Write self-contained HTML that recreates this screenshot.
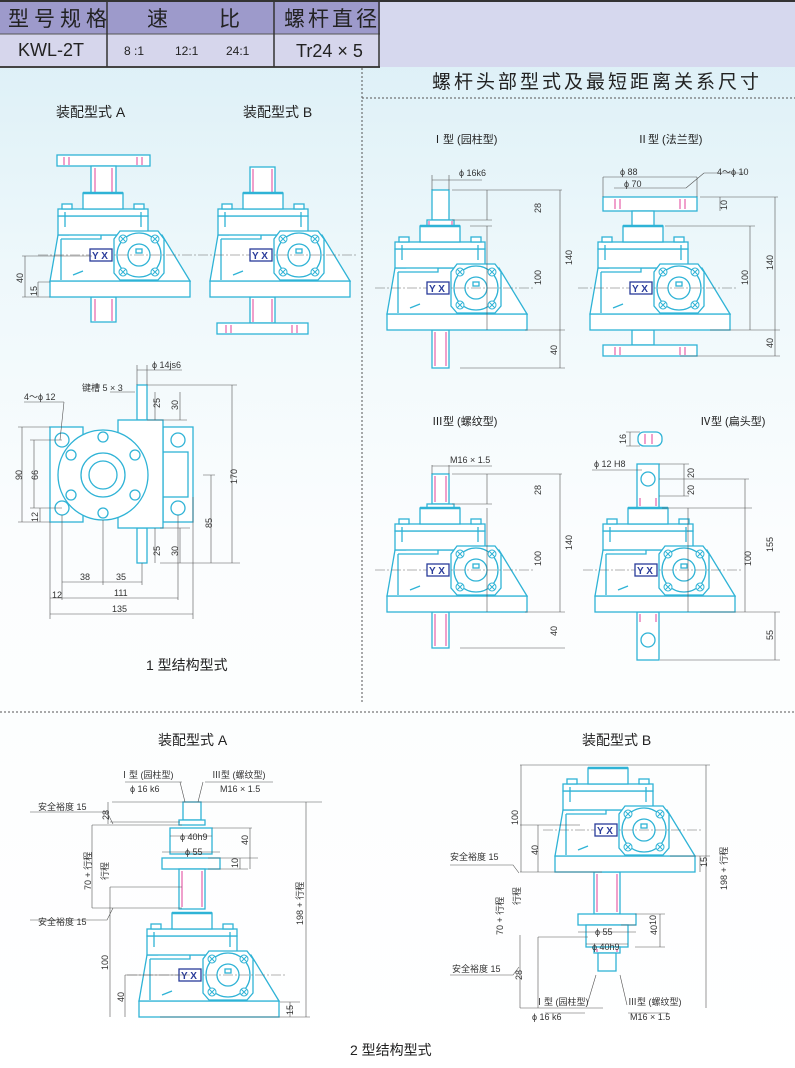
<!DOCTYPE html>
<html><head><meta charset="utf-8"><style>
html,body{margin:0;padding:0;width:795px;height:1068px;overflow:hidden;background:#fff}
svg{display:block}
text{font-family:"Liberation Sans","Noto Sans CJK SC",sans-serif}
</style></head><body>
<svg width="795" height="1068" viewBox="0 0 795 1068" xmlns="http://www.w3.org/2000/svg">
<defs>
<linearGradient id="bg" x1="0" y1="0" x2="0" y2="1">
<stop offset="0" stop-color="#d9eef6"/><stop offset="0.25" stop-color="#eef8fb"/><stop offset="0.5" stop-color="#fbfdfe"/><stop offset="1" stop-color="#ffffff"/>
</linearGradient>
<g id="gb" stroke="#2fb3d6" stroke-width="1.3" fill="#ffffff">
<rect x="-53" y="-16" width="140" height="16"/>
<line x1="-22" y1="-16" x2="-22" y2="0" stroke-width="0"/>
<path d="M-45,-62 L-53,-16 L87,-16 L59,-62 Z"/>
<line x1="-42" y1="-58" x2="-42" y2="-17"/>
<path d="M-42,-58 L-2,-58 L-2,-74"/>
<path d="M-30,-22 L-20,-26"/>
<rect x="-45" y="-81" width="90" height="19"/>
<rect x="-45" y="-88" width="90" height="7"/>
<rect x="-41" y="-93" width="10" height="5"/>
<rect x="31" y="-93" width="10" height="5"/>
<line x1="-38" y1="-85" x2="-38" y2="-70"/><line x1="38" y1="-85" x2="38" y2="-70"/>
<rect x="-20" y="-104" width="40" height="16"/>
<line x1="-20" y1="-104" x2="20" y2="-104" stroke-width="2.5"/>
<path d="M17,-66 L55,-66 L61,-58 L61,-24 L55,-17 L17,-17 L11,-24 L11,-58 Z"/>
<circle cx="36" cy="-42" r="22"/>
<circle cx="36" cy="-42" r="11"/>
<rect x="33" y="-48" width="6" height="4"/>
<g stroke-width="1"><circle cx="20" cy="-58" r="4"/><circle cx="52" cy="-58" r="4"/><circle cx="20" cy="-25" r="4"/><circle cx="52" cy="-25" r="4"/>
<path d="M17,-61l6,6M23,-61l-6,6M49,-61l6,6M55,-61l-6,6M17,-28l6,6M23,-28l-6,6M49,-28l6,6M55,-28l-6,6"/></g>
<line x1="-65" y1="-42" x2="95" y2="-42" stroke="#666" stroke-width="0.6" stroke-dasharray="10,2,2,2"/>
<rect x="-13" y="-48" width="22" height="12" fill="#fff" stroke="#2a3c9a" stroke-width="1.3"/>
</g>
</defs>
<rect width="795" height="1068" fill="url(#bg)"/>

<!-- header table -->
<rect x="0" y="0" width="795" height="2" fill="#333"/>
<rect x="0" y="2" width="380" height="32" fill="#9d9acb"/>
<rect x="0" y="34" width="380" height="33" fill="#d6d6ec"/>
<rect x="380" y="2" width="415" height="65" fill="#d6d8ee"/>
<rect x="0" y="66" width="380" height="2" fill="#444"/>
<line x1="0" y1="34" x2="380" y2="34" stroke="#555" stroke-width="1"/>
<g stroke="#333" stroke-width="1.5"><line x1="107" y1="2" x2="107" y2="67"/><line x1="274" y1="2" x2="274" y2="67"/><line x1="379" y1="2" x2="379" y2="67"/></g>
<g fill="#222" font-size="21" font-family="'Noto Sans CJK SC',sans-serif">
<text x="8" y="26" letter-spacing="5">型号规格</text>
<text x="147" y="26">速</text><text x="219" y="26">比</text>
<text x="284" y="26" letter-spacing="3">螺杆直径</text>
</g>
<text x="18" y="56" font-size="18" fill="#222">KWL-2T</text>
<text x="124" y="55" font-size="12" fill="#222">8 :1</text>
<text x="175" y="55" font-size="12" fill="#222">12:1</text>
<text x="226" y="55" font-size="12" fill="#222">24:1</text>
<text x="296" y="57" font-size="18" fill="#222">Tr24 × 5</text>

<!-- dashed separators -->
<g stroke="#555" stroke-width="1" stroke-dasharray="2,2" fill="none">
<line x1="362" y1="68" x2="362" y2="704"/>
<line x1="362" y1="98" x2="795" y2="98"/>
<line x1="0" y1="712" x2="795" y2="712"/>
</g>
<text x="432" y="88" font-size="19" fill="#222" letter-spacing="3" font-family="'Noto Sans CJK SC',sans-serif">螺杆头部型式及最短距离关系尺寸</text>

<g font-size="14" fill="#222">
<text x="56" y="117">装配型式 A</text>
<text x="243" y="117">装配型式 B</text>
<text x="146" y="670">1 型结构型式</text>
<text x="158" y="745">装配型式 A</text>
<text x="582" y="745">装配型式 B</text>
<text x="350" y="1055">2 型结构型式</text>
</g>

<!-- rods/pieces (drawn before gearboxes) -->
<g stroke="#2fb3d6" stroke-width="1.3" fill="#fff">
<!-- top A -->
<rect x="57" y="155" width="93" height="11"/>
<rect x="91" y="166" width="25" height="27"/>
<rect x="91" y="297" width="25" height="25"/>
<!-- top B -->
<rect x="250" y="167" width="25" height="26"/>
<rect x="250" y="297" width="25" height="26"/>
<rect x="217" y="323" width="91" height="11"/>
<!-- I -->
<rect x="432" y="190" width="17" height="30"/><rect x="427" y="220" width="27" height="6"/>
<rect x="432" y="330" width="17" height="38"/>
<!-- II -->
<rect x="603" y="197" width="94" height="14"/><rect x="632" y="211" width="22" height="15"/>
<rect x="632" y="330" width="22" height="15"/><rect x="603" y="345" width="94" height="11"/>
<!-- III -->
<rect x="432" y="474" width="17" height="30"/><rect x="427" y="504" width="27" height="4"/>
<rect x="432" y="612" width="17" height="36"/>
<!-- IV -->
<rect x="637" y="464" width="22" height="44"/><circle cx="648" cy="479" r="7"/>
<rect x="638" y="432" width="24" height="14" rx="6"/>
<rect x="637" y="612" width="22" height="48"/><circle cx="648" cy="640" r="7"/>
<!-- bottom A -->
<rect x="183" y="802" width="18" height="18"/><rect x="179" y="820" width="26" height="5"/>
<rect x="170" y="828" width="42" height="26"/><rect x="162" y="858" width="58" height="11"/>
<rect x="179" y="869" width="26" height="40"/>
<!-- bottom B -->
<rect x="594" y="872" width="26" height="42"/>
<rect x="578" y="914" width="58" height="11"/><rect x="586" y="925" width="42" height="22"/>
<rect x="594" y="947" width="26" height="6"/><rect x="598" y="953" width="18" height="18"/>
</g>
<g stroke="#e0409a" stroke-width="1" fill="none">
<path d="M64,157v8M69,157v8M137,157v8M142,157v8M95,168v24M112,168v24M95,299v22M112,299v22"/>
<path d="M253,169v23M272,169v23M253,299v23M272,299v23M226,325v8M231,325v8M292,325v8M297,325v8"/>
<path d="M429,221v4M452,221v4M435,332v34M446,332v34M435,476v26M446,476v26M435,614v32M446,614v32"/>
<path d="M615,199v10M620,199v10M680,199v10M685,199v10M615,347v8M620,347v8M680,347v8M685,347v8"/>
<path d="M640,498v8M656,498v8M640,614v8M656,614v8M645,434v10M652,434v10"/>
<path d="M182,871v36M202,871v36M597,874v38M617,874v38M597,949v3M617,949v3"/>
</g>

<!-- gearboxes -->
<use href="#gb" transform="translate(103,297)"/>
<use href="#gb" transform="translate(263,297)"/>
<use href="#gb" transform="translate(440,330)"/>
<use href="#gb" transform="translate(643,330)"/>
<use href="#gb" transform="translate(440,612)"/>
<use href="#gb" transform="translate(648,612)"/>
<use href="#gb" transform="translate(192,1017)"/>
<use href="#gb" transform="translate(608,872)"/>
<g font-size="10" font-weight="bold" fill="#2a3c9a">
<text x="92" y="259">Y X</text><text x="252" y="259">Y X</text>
<text x="429" y="292">Y X</text><text x="632" y="292">Y X</text>
<text x="429" y="574">Y X</text><text x="637" y="574">Y X</text>
<text x="181" y="979">Y X</text><text x="597" y="834">Y X</text>
</g>

<!-- 1型 plan view -->
<g stroke="#2fb3d6" stroke-width="1.3" fill="#fff">
<rect x="137" y="385" width="10" height="35"/><rect x="137" y="528" width="10" height="35"/>
<rect x="50" y="427" width="33" height="95"/>
<rect x="163" y="427" width="30" height="95"/>
<rect x="163" y="452" width="25" height="45"/>
<rect x="118" y="420" width="45" height="108"/>
<circle cx="103" cy="475" r="45"/>
<circle cx="103" cy="475" r="22"/><circle cx="103" cy="475" r="14"/>
<circle cx="62" cy="440" r="7"/><circle cx="62" cy="508" r="7"/>
<circle cx="178" cy="440" r="7"/><circle cx="178" cy="508" r="7"/>
<circle cx="103" cy="437" r="5"/><circle cx="103" cy="513" r="5"/>
<circle cx="71" cy="455" r="5"/><circle cx="71" cy="495" r="5"/>
<circle cx="135" cy="455" r="5"/><circle cx="135" cy="495" r="5"/>
</g>

<!-- dimension lines -->
<g stroke="#555" stroke-width="0.6" fill="none">
<!-- top-left A -->
<path d="M22,256h70M22,297h28M25,256v41M38,282v15M38,282h12"/>
<!-- I -->
<path d="M432,175v15M449,175v15M432,180h50M452,190h110M452,220h40M470,226h22M525,330h40M460,368h105M487,190v30M487,226v104M560,190v178"/>
<!-- II -->
<path d="M603,177v20M697,177v20M603,177h94M614,188h72M686,188l18,-15M704,173h40M720,197v14M700,197h78M665,226h90M710,330h70M680,356h100M750,226v104M775,197v133M775,330v26"/>
<!-- III -->
<path d="M432,465v9M449,465v9M432,466h60M452,474h110M452,504h40M487,474v30M487,508v104M560,474v138M525,612h40M460,648h105"/>
<!-- IV -->
<path d="M626,432h14M626,446h14M630,432v14M592,470h50M659,464h30M659,479h90M659,496h30M684,464v32M662,508h90M745,479v133M688,508v104M700,612h80M660,660h120M775,612v48"/>
<!-- plan -->
<path d="M137,365v20M147,365v20M137,370h45M110,392h25M147,385h90M147,420h40M160,528h30M160,563h80M155,392v28M180,392v28M155,528v35M180,528v35M232,385v178M18,427h32M18,522h32M22,427v95M30,440h32M30,508h32M34,440v68M40,508v14M40,522h10M203,475h12M211,475v88M178,515v85M62,515v85M103,520v65M142,563v22M62,582h80M50,522v97M193,497v122M50,614h143M50,598h128M24,402h40M64,402l-4,38"/>
<!-- bottom A -->
<path d="M112,802h210M110,822h70M110,887h72M92,825h90M92,908h90M108,802v22M92,825v83M110,887v21M160,1017h150M125,975h65M208,858h50M208,869h40M212,828h40M240,858v11M250,828v41M110,908v109M125,975v42M280,1002h20M290,1002v15M306,802v215M170,836h42M162,852h58M30,812h77l6,12M30,920h77l6,-12M180,782l5,20M203,782l-5,20M125,782h57M205,782h68"/>
<!-- bottom B -->
<path d="M520,765h190M520,872h82M520,1008h82M538,937h50M521,765v107M538,937v71M520,935v73M580,825h-60M538,825v47M670,856h40M700,856v16M706,765v243M635,914h30M635,947h30M660,914v33M636,925h-15M578,932h58M586,944h42M450,865h63l6,8M450,975h63l6,-8M596,975l-9,30M620,975l7,30M525,1008h78M545,1013h40M628,1013h40"/>
</g>
<!-- arrows (small filled) -->
<g fill="#555" font-size="9">
</g>

<!-- dimension texts -->
<g font-size="9" fill="#333">
<text x="459" y="176">ϕ 16k6</text>
<text x="620" y="175">ϕ 88</text><text x="624" y="187">ϕ 70</text><text x="717" y="175">4～ϕ 10</text>
<text x="450" y="463">M16 × 1.5</text>
<text x="594" y="467">ϕ 12 H8</text>
<text x="152" y="368">ϕ 14js6</text>
<text x="82" y="391">键槽 5 × 3</text>
<text x="24" y="400">4～ϕ 12</text>
<text x="80" y="580">38</text><text x="116" y="580">35</text>
<text x="114" y="596">111</text><text x="52" y="598">12</text><text x="112" y="612">135</text>
<text x="120" y="778">Ⅰ型 (园柱型)</text><text x="212" y="778">Ⅲ型 (螺纹型)</text>
<text x="130" y="792">ϕ 16 k6</text><text x="220" y="792">M16 × 1.5</text>
<text x="38" y="810">安全裕度 15</text><text x="38" y="925">安全裕度 15</text>
<text x="180" y="840">ϕ 40h9</text><text x="185" y="855">ϕ 55</text>
<text x="450" y="860">安全裕度 15</text><text x="452" y="972">安全裕度 15</text>
<text x="595" y="935">ϕ 55</text><text x="592" y="950">ϕ 40h9</text>
<text x="535" y="1005">Ⅰ型 (园柱型)</text><text x="628" y="1005">Ⅲ型 (螺纹型)</text>
<text x="532" y="1020">ϕ 16 k6</text><text x="630" y="1020">M16 × 1.5</text>
</g>
<g font-size="11" fill="#222">
<text x="432" y="143">Ⅰ型 (园柱型)</text><text x="637" y="143">Ⅱ型 (法兰型)</text>
<text x="432" y="425">Ⅲ型 (螺纹型)</text><text x="700" y="425">Ⅳ型 (扁头型)</text>
</g>
<g font-size="9" fill="#333">
<text transform="translate(23,283) rotate(-90)">40</text>
<text transform="translate(37,296) rotate(-90)">15</text>
<text transform="translate(541,213) rotate(-90)">28</text>
<text transform="translate(541,285) rotate(-90)">100</text>
<text transform="translate(572,265) rotate(-90)">140</text>
<text transform="translate(557,355) rotate(-90)">40</text>
<text transform="translate(727,210) rotate(-90)">10</text>
<text transform="translate(748,285) rotate(-90)">100</text>
<text transform="translate(773,270) rotate(-90)">140</text>
<text transform="translate(773,348) rotate(-90)">40</text>
<text transform="translate(541,495) rotate(-90)">28</text>
<text transform="translate(541,566) rotate(-90)">100</text>
<text transform="translate(572,550) rotate(-90)">140</text>
<text transform="translate(557,636) rotate(-90)">40</text>
<text transform="translate(626,444) rotate(-90)">16</text>
<text transform="translate(694,478) rotate(-90)">20</text><text transform="translate(694,495) rotate(-90)">20</text>
<text transform="translate(751,566) rotate(-90)">100</text>
<text transform="translate(773,552) rotate(-90)">155</text>
<text transform="translate(773,640) rotate(-90)">55</text>
<text transform="translate(160,408) rotate(-90)">25</text><text transform="translate(178,410) rotate(-90)">30</text>
<text transform="translate(160,556) rotate(-90)">25</text><text transform="translate(178,556) rotate(-90)">30</text>
<text transform="translate(237,484) rotate(-90)">170</text>
<text transform="translate(212,528) rotate(-90)">85</text>
<text transform="translate(22,480) rotate(-90)">90</text>
<text transform="translate(38,480) rotate(-90)">66</text>
<text transform="translate(38,522) rotate(-90)">12</text>
<text transform="translate(109,820) rotate(-90)">28</text>
<text transform="translate(91,890) rotate(-90)">70 + 行程</text>
<text transform="translate(108,880) rotate(-90)">行程</text>
<text transform="translate(248,845) rotate(-90)">40</text>
<text transform="translate(238,868) rotate(-90)">10</text>
<text transform="translate(303,925) rotate(-90)">198 + 行程</text>
<text transform="translate(108,970) rotate(-90)">100</text>
<text transform="translate(124,1002) rotate(-90)">40</text>
<text transform="translate(293,1015) rotate(-90)">15</text>
<text transform="translate(518,825) rotate(-90)">100</text>
<text transform="translate(538,855) rotate(-90)">40</text>
<text transform="translate(707,867) rotate(-90)">15</text>
<text transform="translate(727,890) rotate(-90)">198 + 行程</text>
<text transform="translate(520,905) rotate(-90)">行程</text>
<text transform="translate(503,935) rotate(-90)">70 + 行程</text>
<text transform="translate(657,935) rotate(-90)">40</text>
<text transform="translate(656,925) rotate(-90)">10</text>
<text transform="translate(522,980) rotate(-90)">28</text>
</g>
</svg>
</body></html>
